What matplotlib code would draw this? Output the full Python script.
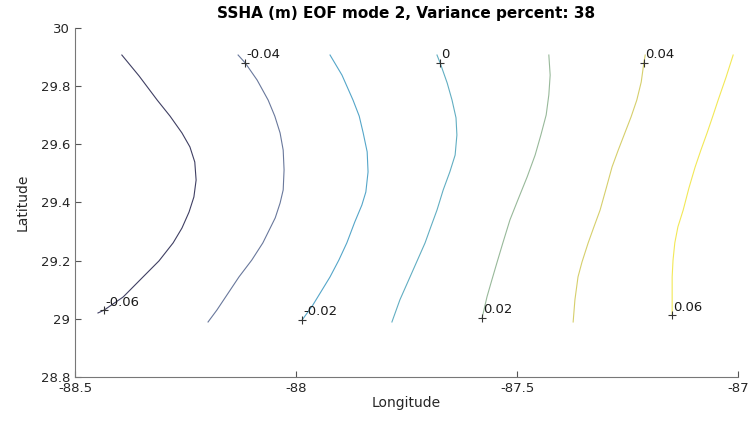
import matplotlib.pyplot as plt
from matplotlib.ticker import FormatStrFormatter

plt.rcParams['axes.unicode_minus'] = False

# contour levels and the lines (lon, lat)
levels = [-0.06, -0.04, -0.02, 0, 0.02, 0.04, 0.06]
level_text = ['-0.06', '-0.04', '-0.02', '0', '0.02', '0.04', '0.06']
colors = ['#3f3f63', '#69789c', '#55a6c9', '#62aec2', '#98b99a', '#d6cf6c', '#f2e857']

lon_m06 = [-88.394, -88.355, -88.314, -88.285, -88.258, -88.240, -88.229, -88.226, -88.231,
           -88.242, -88.258, -88.278, -88.310, -88.346, -88.391, -88.434, -88.448]
lat_m06 = [29.907, 29.835, 29.752, 29.697, 29.639, 29.591, 29.539, 29.477, 29.419,
           29.367, 29.312, 29.261, 29.199, 29.144, 29.075, 29.030, 29.020]

lon_m04 = [-88.131, -88.115, -88.088, -88.063, -88.048, -88.036, -88.029, -88.027,
           -88.029, -88.036, -88.047, -88.075, -88.100, -88.129, -88.179, -88.199]
lat_m04 = [29.907, 29.880, 29.821, 29.752, 29.697, 29.639, 29.580, 29.512,
           29.443, 29.398, 29.347, 29.261, 29.202, 29.144, 29.030, 28.989]

lon_m02 = [-87.923, -87.896, -87.871, -87.857, -87.848, -87.839, -87.837, -87.842,
           -87.851, -87.867, -87.885, -87.903, -87.923, -87.962, -87.986]
lat_m02 = [29.907, 29.838, 29.752, 29.697, 29.639, 29.574, 29.505, 29.436,
           29.391, 29.333, 29.261, 29.202, 29.144, 29.047, 28.996]

lon_0 = [-87.681, -87.674, -87.658, -87.647, -87.638, -87.636, -87.640, -87.652,
         -87.667, -87.681, -87.695, -87.708, -87.742, -87.765, -87.783]
lat_0 = [29.907, 29.880, 29.811, 29.752, 29.691, 29.632, 29.563, 29.505,
         29.443, 29.374, 29.316, 29.261, 29.144, 29.065, 28.989]

lon_p02 = [-87.428, -87.425, -87.428, -87.434, -87.446, -87.459, -87.477,
           -87.498, -87.516, -87.532, -87.545, -87.557, -87.568, -87.579]
lat_p02 = [29.907, 29.838, 29.770, 29.701, 29.632, 29.563, 29.488,
           29.409, 29.340, 29.261, 29.195, 29.133, 29.075, 29.003]

lon_p04 = [-87.210, -87.213, -87.219, -87.229, -87.242, -87.256, -87.271, -87.285,
           -87.298, -87.312, -87.326, -87.339, -87.353, -87.362, -87.369, -87.373]
lat_p04 = [29.907, 29.880, 29.814, 29.752, 29.694, 29.639, 29.580, 29.522,
           29.450, 29.374, 29.316, 29.261, 29.195, 29.144, 29.065, 28.989]

lon_p06 = [-87.011, -87.027, -87.045, -87.057, -87.070, -87.084, -87.097, -87.111,
           -87.124, -87.136, -87.143, -87.147, -87.149, -87.149, -87.149]
lat_p06 = [29.907, 29.831, 29.752, 29.697, 29.639, 29.580, 29.522, 29.450,
           29.374, 29.316, 29.261, 29.202, 29.144, 29.075, 29.013]

lines_lon = [lon_m06, lon_m04, lon_m02, lon_0, lon_p02, lon_p04, lon_p06]
lines_lat = [lat_m06, lat_m04, lat_m02, lat_0, lat_p02, lat_p04, lat_p06]

# clabel marker positions
label_lon = [-88.434, -88.115, -87.986, -87.674, -87.579, -87.213, -87.149]
label_lat = [29.030, 29.880, 28.996, 29.880, 29.003, 29.880, 29.013]

fig = plt.figure(figsize=(7.53, 4.24), dpi=100)
ax = fig.add_axes([0.0996, 0.111, 0.8805, 0.823])

for lon, lat, c in zip(lines_lon, lines_lat, colors):
    ax.plot(lon, lat, color=c, lw=0.8)

for x, y, t in zip(label_lon, label_lat, level_text):
    ax.plot(x, y, '+', color='#333333', ms=6, mew=0.8)
    ax.text(x + 0.003, y + 0.005, t, fontsize=9.5, color='#1a1a1a', ha='left', va='bottom')

ax.set_xlim(-88.5, -87)
ax.set_ylim(28.8, 30)
ax.set_xticks([-88.5, -88, -87.5, -87])
ax.set_yticks([28.8, 29, 29.2, 29.4, 29.6, 29.8, 30])
ax.xaxis.set_major_formatter(FormatStrFormatter('%g'))
ax.yaxis.set_major_formatter(FormatStrFormatter('%g'))
ax.tick_params(direction='in', length=4, width=0.8, colors='#555555', labelsize=9.5, labelcolor='#262626')
for s in ['top', 'right']:
    ax.spines[s].set_visible(False)
for s in ['left', 'bottom']:
    ax.spines[s].set_color('#777777')
    ax.spines[s].set_linewidth(0.8)

ax.set_xlabel('Longitude', fontsize=10, color='#262626', labelpad=1)
ax.set_ylabel('Latitude', fontsize=10, color='#262626', labelpad=8)
ax.set_title('SSHA (m) EOF mode 2, Variance percent: 38', fontsize=11, fontweight='bold', pad=7)

fig.savefig('out.png', dpi=100)
